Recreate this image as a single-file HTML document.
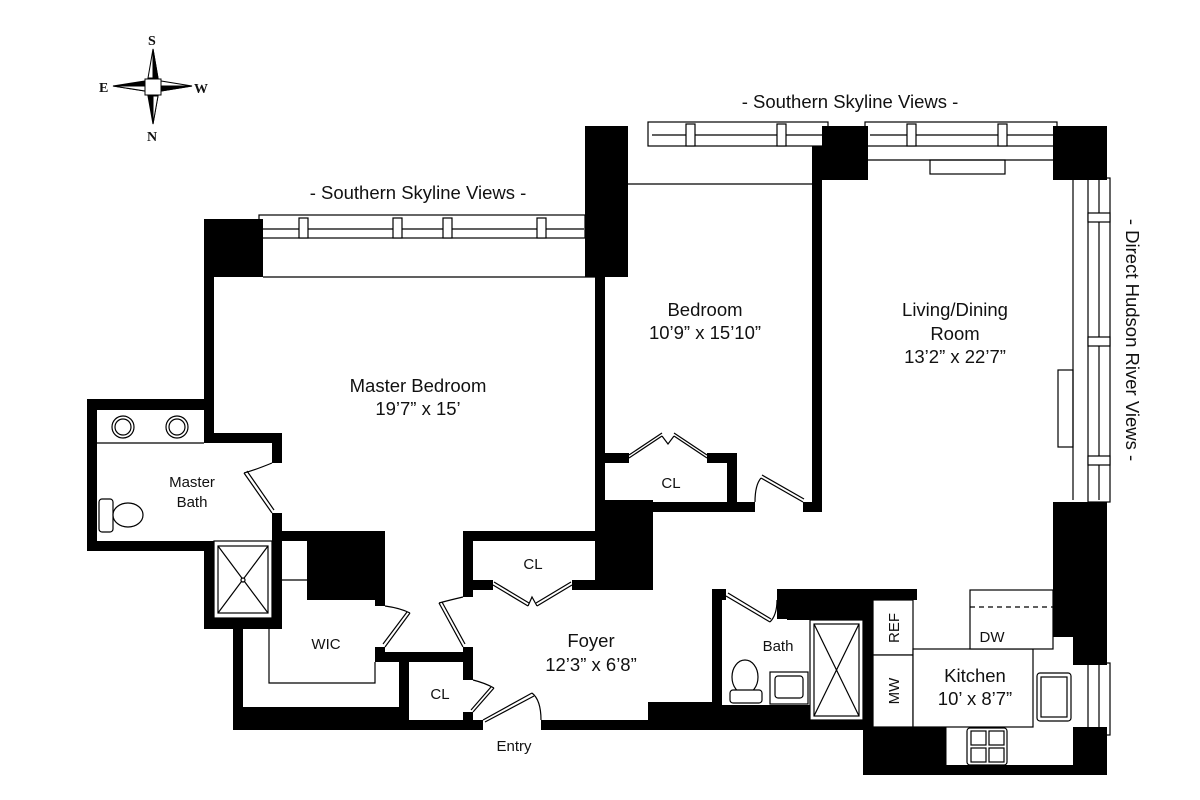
<!DOCTYPE html>
<html><head><meta charset="utf-8"><style>
html,body{margin:0;padding:0;background:#fff}
svg{display:block}
text{font-family:"Liberation Sans",sans-serif;fill:#111}
</style></head><body>
<svg width="1200" height="800" viewBox="0 0 1200 800" xmlns="http://www.w3.org/2000/svg">
<!-- compass -->
<g stroke="#000" stroke-width="1">
<polygon points="153,49 148,78 158,78" fill="#fff"/><polygon points="153,49 158,78 153,78" fill="#000"/>
<polygon points="153,124 148,96 158,96" fill="#000"/><polygon points="153,124 158,96 153,96" fill="#fff"/>
<polygon points="113,86 145,81 145,91" fill="#000"/><polygon points="113,86 145,91 145,86" fill="#fff"/>
<polygon points="192,86 161,81 161,91" fill="#fff"/><polygon points="192,86 161,91 161,86" fill="#000"/>
<rect x="145" y="79" width="16" height="16" fill="#fff"/>
</g>
<g font-weight="bold" font-size="14">
<text x="148" y="45" style="font-family:'Liberation Serif',serif">S</text>
<text x="99" y="92" style="font-family:'Liberation Serif',serif">E</text>
<text x="194" y="93" style="font-family:'Liberation Serif',serif">W</text>
<text x="147" y="141" style="font-family:'Liberation Serif',serif">N</text>
</g>
<!-- labels -->
<text x="418" y="199" font-size="18.5" text-anchor="middle">- Southern Skyline Views -</text>
<text x="850" y="108" font-size="18.5" text-anchor="middle">- Southern Skyline Views -</text>
<text transform="translate(1126,340) rotate(90)" font-size="18.5" text-anchor="middle">- Direct Hudson River Views -</text>

<!-- windows -->
<g fill="#fff" stroke="#000" stroke-width="1.2">
<rect x="259" y="215" width="326" height="23"/>
<line x1="262" y1="229" x2="584" y2="229"/>
<rect x="299" y="218" width="9" height="20"/><rect x="393" y="218" width="9" height="20"/><rect x="443" y="218" width="9" height="20"/><rect x="537" y="218" width="9" height="20"/>
<rect x="648" y="122" width="180" height="24"/>
<line x1="652" y1="135" x2="826" y2="135"/>
<rect x="686" y="124" width="9" height="22"/><rect x="777" y="124" width="9" height="22"/>
<rect x="865" y="122" width="192" height="24"/>
<line x1="870" y1="135" x2="1055" y2="135"/>
<rect x="907" y="124" width="9" height="22"/><rect x="998" y="124" width="9" height="22"/>
<rect x="1088" y="178" width="22" height="324"/>
<line x1="1099" y1="180" x2="1099" y2="500"/>
<rect x="1088" y="213" width="22" height="9"/><rect x="1088" y="337" width="22" height="9"/><rect x="1088" y="456" width="22" height="9"/>
<rect x="1088" y="663" width="22" height="72"/>
<line x1="1099" y1="665" x2="1099" y2="733"/>
</g>
<g fill="none" stroke="#000" stroke-width="1.2">
<line x1="263" y1="277" x2="595" y2="277"/>
<line x1="628" y1="184" x2="812" y2="184"/>
<line x1="868" y1="160" x2="1055" y2="160"/>
<rect x="930" y="160" width="75" height="14"/>
<line x1="1073" y1="180" x2="1073" y2="500"/>
<rect x="1058" y="370" width="15" height="77"/>
</g>

<!-- walls -->
<g fill="#000">
<rect x="204" y="219" width="59" height="58"/>
<rect x="204" y="219" width="10" height="216"/>
<rect x="585" y="126" width="43" height="151"/>
<rect x="595" y="126" width="10" height="386"/>
<!-- master bath -->
<rect x="87" y="399" width="126" height="11"/>
<rect x="87" y="399" width="10" height="152"/>
<rect x="87" y="541" width="126" height="10"/>
<rect x="204" y="433" width="78" height="10"/>
<rect x="272" y="433" width="10" height="30"/>
<rect x="272" y="513" width="10" height="116"/>
<rect x="204" y="541" width="10" height="88"/>
<rect x="204" y="618" width="78" height="11"/>
<!-- WIC -->
<rect x="282" y="531" width="103" height="10"/>
<rect x="307" y="531" width="78" height="69"/>
<rect x="375" y="531" width="10" height="75"/>
<rect x="375" y="647" width="10" height="15"/>
<rect x="375" y="652" width="98" height="10"/>
<rect x="233" y="628" width="10" height="102"/>
<rect x="233" y="707" width="176" height="23"/>
<rect x="399" y="652" width="10" height="78"/>
<rect x="463" y="647" width="10" height="33"/>
<rect x="463" y="712" width="10" height="18"/>
<rect x="233" y="720" width="250" height="10"/>
<rect x="541" y="720" width="322" height="10"/>
<!-- foyer closet -->
<rect x="463" y="531" width="137" height="10"/>
<rect x="463" y="531" width="10" height="66"/>
<rect x="463" y="580" width="30" height="10"/>
<rect x="572" y="580" width="80" height="10"/>
<rect x="595" y="500" width="58" height="90"/>
<!-- bedroom -->
<rect x="595" y="502" width="160" height="10"/>
<rect x="803" y="502" width="19" height="10"/>
<rect x="605" y="453" width="24" height="10"/>
<rect x="707" y="453" width="30" height="10"/>
<rect x="727" y="453" width="10" height="59"/>
<rect x="812" y="146" width="10" height="366"/>
<rect x="822" y="126" width="46" height="54"/>
<rect x="1053" y="126" width="54" height="54"/>
<!-- east wall -->
<rect x="1053" y="502" width="54" height="135"/>
<rect x="1073" y="630" width="34" height="35"/>
<rect x="1073" y="727" width="34" height="48"/>
<!-- bath / kitchen -->
<rect x="648" y="702" width="64" height="28"/>
<rect x="712" y="589" width="10" height="116"/>
<rect x="712" y="589" width="14" height="11"/>
<rect x="777" y="589" width="140" height="11"/>
<rect x="777" y="589" width="10" height="30"/>
<rect x="787" y="600" width="76" height="20"/>
<rect x="700" y="705" width="175" height="22"/>
<rect x="863" y="590" width="10" height="185"/>
<rect x="863" y="727" width="83" height="48"/>
<rect x="863" y="765" width="244" height="10"/>
</g>

<!-- fixtures -->
<g fill="#fff" stroke="#000" stroke-width="1.2">
<line x1="97" y1="443" x2="204" y2="443"/>
<circle cx="123" cy="427" r="11"/><circle cx="123" cy="427" r="8"/>
<circle cx="177" cy="427" r="11"/><circle cx="177" cy="427" r="8"/>
<rect x="99" y="499" width="14" height="33" rx="3"/>
<ellipse cx="128" cy="515" rx="15" ry="12"/>
<rect x="214" y="541" width="58" height="77"/>
<rect x="218" y="546" width="50" height="67"/>
<line x1="218" y1="546" x2="268" y2="613"/><line x1="268" y1="546" x2="218" y2="613"/>
<circle cx="243" cy="580" r="2"/>
<line x1="282" y1="580" x2="307" y2="580"/>
<polyline fill="none" points="269,629 269,683 375,683 375,662"/>
<rect x="810" y="620" width="53" height="100"/>
<rect x="814" y="624" width="45" height="92"/>
<line x1="814" y1="624" x2="859" y2="716"/><line x1="859" y1="624" x2="814" y2="716"/>
<ellipse cx="745" cy="677" rx="13" ry="17"/>
<rect x="730" y="690" width="32" height="13" rx="3"/>
<rect x="770" y="672" width="38" height="32"/>
<rect x="775" y="676" width="28" height="22" rx="3"/>
<rect x="873" y="600" width="40" height="55"/>
<rect x="873" y="655" width="40" height="72"/>
<rect x="913" y="649" width="120" height="78"/>
<rect x="970" y="590" width="83" height="59"/>
<rect x="1037" y="673" width="34" height="48" rx="3"/>
<rect x="1041" y="677" width="26" height="40"/>
<rect x="967" y="728" width="40" height="37" rx="3"/>
<rect x="971" y="731" width="15" height="14"/><rect x="989" y="731" width="15" height="14"/>
<rect x="971" y="748" width="15" height="14"/><rect x="989" y="748" width="15" height="14"/>
</g>
<line x1="970" y1="607" x2="1053" y2="607" stroke="#000" stroke-width="1.2" stroke-dasharray="5,4"/>
<line x1="946" y1="727" x2="946" y2="765" stroke="#000" stroke-width="1"/>

<!-- doors -->
<g fill="none" stroke="#000" stroke-width="1.2">
<path d="M272,463 Q255,470 244,473"/><line x1="244" y1="473" x2="272" y2="513"/><line x1="247" y1="471" x2="274" y2="510"/>
<path d="M385,606 Q400,608 410,613"/><line x1="410" y1="613" x2="385" y2="647"/><line x1="407" y1="612" x2="383" y2="644"/>
<path d="M463,597 Q450,600 439,603"/><line x1="439" y1="603" x2="463" y2="647"/><line x1="442" y1="602" x2="465" y2="644"/>
<path d="M473,680 Q485,683 494,688"/><line x1="494" y1="688" x2="473" y2="712"/><line x1="491" y1="687" x2="471" y2="710"/>
<path d="M541,720 Q541,700 532,693"/><line x1="483" y1="720" x2="532" y2="693"/><line x1="485" y1="722" x2="534" y2="696"/>
<line x1="493" y1="585" x2="528" y2="606"/><line x1="494" y1="582" x2="529" y2="603"/>
<line x1="572" y1="585" x2="537" y2="606"/><line x1="571" y1="582" x2="536" y2="603"/>
<path d="M528,606 L532,597 L537,606"/>
<line x1="629" y1="458" x2="662" y2="436"/><line x1="629" y1="455" x2="662" y2="433"/>
<line x1="707" y1="458" x2="674" y2="436"/><line x1="707" y1="455" x2="674" y2="433"/>
<path d="M662,436 L668,444 L674,436"/>
<path d="M755,502 Q755,485 761,478"/><line x1="761" y1="478" x2="803" y2="502"/><line x1="762" y1="475" x2="804" y2="499"/>
<path d="M777,600 Q777,615 770,622"/><line x1="726" y1="596" x2="770" y2="622"/><line x1="728" y1="593" x2="771" y2="619"/>
</g>

<!-- room labels -->
<g font-size="18.5" text-anchor="middle">
<text x="418" y="392">Master Bedroom</text>
<text x="418" y="415">19’7” x 15’</text>
<text x="705" y="316">Bedroom</text>
<text x="705" y="339">10’9” x 15’10”</text>
<text x="955" y="316">Living/Dining</text>
<text x="955" y="340">Room</text>
<text x="955" y="363">13’2” x 22’7”</text>
<text x="591" y="647">Foyer</text>
<text x="591" y="671">12’3” x 6’8”</text>
<text x="975" y="682">Kitchen</text>
<text x="975" y="705">10’ x 8’7”</text>
</g>
<g font-size="15" text-anchor="middle">
<text x="192" y="487">Master</text>
<text x="192" y="507">Bath</text>
<text x="326" y="649">WIC</text>
<text x="440" y="699">CL</text>
<text x="533" y="569">CL</text>
<text x="671" y="488">CL</text>
<text x="778" y="651">Bath</text>
<text x="992" y="642">DW</text>
<text x="514" y="751">Entry</text>
<text transform="translate(899,628) rotate(-90)" text-anchor="middle">REF</text>
<text transform="translate(899,691) rotate(-90)" text-anchor="middle">MW</text>
</g>
</svg>
</body></html>
